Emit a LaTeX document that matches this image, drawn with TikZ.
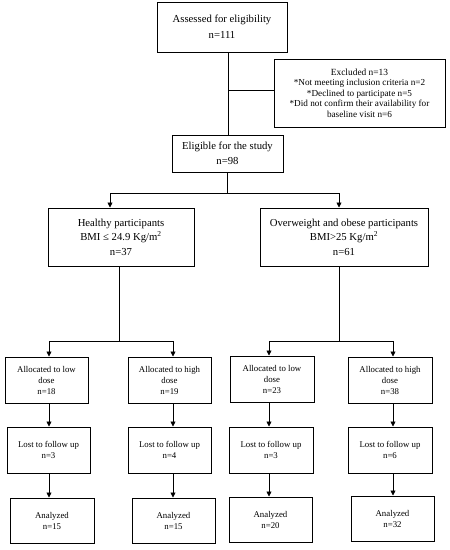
\documentclass[tikz,border=0pt]{standalone}
\usepackage{fontspec}
\setmainfont{Liberation Serif}
\usetikzlibrary{arrows.meta}
\begin{document}
\begin{tikzpicture}[x=1pt,y=-1pt,
  box/.style={draw=black, line width=1pt, rectangle, align=center, inner sep=1pt},
  big/.style={font=\fontsize{10.7}{14.5}\selectfont},
  small/.style={font=\fontsize{9.2}{10.6}\selectfont},
  tiny/.style={font=\fontsize{8.8}{11}\selectfont},
  conn/.style={draw=black, line width=0.7pt},
  arr/.style={conn, -{Triangle[length=5pt,width=5pt]}}]
\useasboundingbox (0,0) rectangle (450,550);
% top
\node[box,big,font=\fontsize{10.7}{16}\selectfont,minimum width=130pt,minimum height=50pt] (ass) at (222,27) {Assessed for eligibility\\n=111};
\node[box,small,minimum width=171pt,minimum height=68pt] (exc) at (359.5,93) {\fontsize{9.4}{11}\selectfont Excluded n=13\\*Not meeting inclusion criteria n=2\\*Declined to participate n=5\\*Did not confirm their availability for\\baseline visit n=6};
\node[box,big,minimum width=111pt,minimum height=37pt] (eli) at (227.5,153.5) {Eligible for the study\\n=98};
\node[box,big,minimum width=146pt,minimum height=58pt] (hea) at (121,237) {Healthy participants\\BMI ≤ 24.9 Kg/m\textsuperscript{2}\\n=37};
\node[box,big,minimum width=168pt,minimum height=58pt] (ove) at (344,237) {Overweight and obese participants\\BMI>25 Kg/m\textsuperscript{2}\\n=61};
% allocated
\node[box,tiny,minimum width=83pt,minimum height=46pt] (a1) at (46.5,380) {Allocated to low\\dose\\n=18};
\node[box,tiny,minimum width=83pt,minimum height=46pt] (a2) at (169.5,380) {Allocated to high\\dose\\n=19};
\node[box,tiny,minimum width=84pt,minimum height=46pt] (a3) at (272,379) {Allocated to low\\dose\\n=23};
\node[box,tiny,minimum width=84pt,minimum height=46pt] (a4) at (390,380) {Allocated to high\\dose\\n=38};
% lost
\node[box,tiny,minimum width=83pt,minimum height=46pt] (l1) at (48.5,450) {Lost to follow up\\n=3};
\node[box,tiny,minimum width=83pt,minimum height=46pt] (l2) at (169.5,450) {Lost to follow up\\n=4};
\node[box,tiny,minimum width=84pt,minimum height=46pt] (l3) at (271,450) {Lost to follow up\\n=3};
\node[box,tiny,minimum width=84pt,minimum height=46pt] (l4) at (390,450) {Lost to follow up\\n=6};
% analyzed
\node[box,tiny,minimum width=84pt,minimum height=45pt] (n1) at (52,520.5) {Analyzed\\n=15};
\node[box,tiny,minimum width=83pt,minimum height=45pt] (n2) at (173.5,520.5) {Analyzed\\n=15};
\node[box,tiny,minimum width=83pt,minimum height=45pt] (n3) at (270.5,519.5) {Analyzed\\n=20};
\node[box,tiny,minimum width=83pt,minimum height=45pt] (n4) at (392.5,518.5) {Analyzed\\n=32};
% coordinates
\coordinate (j1) at (228,90);
\coordinate (s0) at (227.5,193);
\coordinate (sh) at (110,193);
\coordinate (so) at (339,193);
\coordinate (t1) at (119.5,341);
\coordinate (t2) at (339,341);
\coordinate (c1) at (49,341);
\coordinate (c2) at (173,341);
\coordinate (c3) at (269,341);
\coordinate (c4) at (393,341);
% connectors
\draw[conn] (ass.south -| j1) -- (eli.north -| j1);
\draw[conn] (j1) -- (exc.west |- j1);
\draw[conn] (eli.south -| s0) -- (s0);
\draw[conn] (sh) -- (so);
\draw[arr] (sh) -- (hea.north -| sh);
\draw[arr] (so) -- (ove.north -| so);
\draw[conn] (hea.south -| t1) -- (t1);
\draw[conn] (ove.south -| t2) -- (t2);
\draw[conn] (c1) -- (c2);
\draw[conn] (c3) -- (c4);
\foreach \i in {1,2,3,4}{
  \draw[arr] (c\i) -- (a\i.north -| c\i);
  \draw[arr] (a\i.south -| c\i) -- (l\i.north -| c\i);
  \draw[arr] (l\i.south -| c\i) -- (n\i.north -| c\i);
}
\end{tikzpicture}
\end{document}
